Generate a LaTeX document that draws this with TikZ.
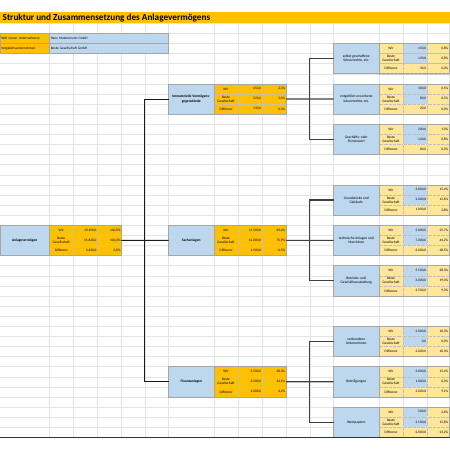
\documentclass[tikz,border=0pt]{standalone}
\usepackage{fontspec}
\setmainfont{Carlito}
\definecolor{xorange}{HTML}{FFC000}
\definecolor{xlorange}{HTML}{FFE699}
\definecolor{xblue}{HTML}{BDD7EE}
\definecolor{xgrid}{HTML}{E4E4E4}
\definecolor{xbord}{HTML}{A6A6A6}
\definecolor{xsep}{HTML}{BFBFBF}
\newcommand\ry[1]{(43.4+(#1-4)*10.1)}
\newcommand\trow[9]{%
 \node[#4,anchor=north west] (#1a) at ({#2},{#3}) {#7};
 \node[#5,anchor=north west] (#1b) at (#1a.north east) {#8};
 \node[#6,anchor=north west] (#1c) at (#1b.north east) {#9};}
\newcommand\otab[9]{%
 \trow{#1-1}{#2}{#3}{olab}{oval}{oval}{Wir}{#4}{#5}
 \trow{#1-2}{#2}{#3+10.1}{olab}{oval}{oval}{Beste\\Gesellschaft}{#6}{#7}
 \trow{#1-3}{#2}{#3+20.2}{olab}{oval}{oval}{Differenz}{#8}{#9}
 \draw[tborder] (#1-1a.north west) rectangle (#1-3c.south east);}
\newcommand\ltab[9]{%
 \trow{#1-1}{#2}{#3}{llab}{lval}{lpct}{Wir}{#4}{#5}
 \trow{#1-2}{#2}{#3+10.1}{llab}{lval}{lpct}{Beste\\Gesellschaft}{#6}{#7}
 \trow{#1-3}{#2}{#3+20.2}{llab}{ldif}{lpct}{Differenz}{#8}{#9}
 \draw[tborder] (#1-1a.north west) rectangle (#1-3c.south east);}
\tikzset{
 cellbase/.style={inner xsep=0.8pt, inner ysep=0pt, outer sep=0pt, minimum height=10.1pt,
   font=\fontsize{3.5}{3.9}\selectfont, draw=xsep, densely dotted, line width=0.3pt},
 olab/.style={cellbase, fill=xorange, text width=22.4pt, align=center},
 oval/.style={cellbase, fill=xorange, text width=22.4pt, align=right},
 llab/.style={cellbase, fill=xlorange, text width=22.4pt, align=center},
 lval/.style={cellbase, fill=xblue, text width=22.4pt, align=right},
 ldif/.style={cellbase, fill=xlorange, text width=22.4pt, align=right},
 lpct/.style={cellbase, fill=xlorange, text width=20.4pt, align=right},
 tborder/.style={draw=xbord, line width=0.5pt},
 bluebox/.style={draw=xbord, fill=xblue, line width=0.5pt, outer sep=0pt, inner sep=0.5pt,
   minimum height=30.3pt, align=center, anchor=north west, font=\fontsize{3.6}{4.3}\selectfont},
 bigbox/.style={bluebox, font=\bfseries\fontsize{3.6}{4.3}\selectfont},
 hdr/.style={draw=xbord, line width=0.4pt, outer sep=0pt, inner xsep=1.5pt, inner ysep=0pt,
   minimum height=10.1pt, anchor=north west, align=left, font=\fontsize{3.5}{4}\selectfont},
 conn/.style={draw=black!90, line width=0.8pt},
 connr/.style={draw=black!75, line width=1.1pt},
 gridl/.style={draw=xgrid, line width=0.3pt}
}
\begin{document}
\begin{tikzpicture}[x=1pt,y=-1pt]
\useasboundingbox (0,0) rectangle (450,450);
% spreadsheet grid
\foreach \r in {2,...,43} \draw[gridl] (0,{\ry{\r}}) -- (450,{\ry{\r}});
\foreach \c in {49.3,73.2,97.1,121,144.8,168.6,214,238,262,286,309.8,333.6,379,403,427,449.4}
  \draw[gridl] (\c,{\ry{2}}) -- (\c,{\ry{43}});
% title
\fill[xorange] (0,11.7) rectangle (450,23.2);
\node[anchor=west, inner sep=0pt, font=\bfseries\fontsize{9.2}{10}\selectfont] (title) at (2.5,17.6)
  {Struktur und Zusammensetzung des Anlagevermögens};
% header
\node[hdr, fill=xorange, text width=46.3pt] (h1) at (0,{\ry{3}}) {WIR (unser Unternehmen)};
\node[hdr, fill=xblue, text width=115.7pt] (h2) at (h1.north east) {Hans Mustermann GmbH};
\node[hdr, fill=xorange, text width=46.3pt] (h3) at (0,{\ry{4}}) {Vergleichsunternehmen};
\node[hdr, fill=xblue, text width=115.7pt] (h4) at (h3.north east) {Beste Gesellschaft GmbH};
% left
\node[bigbox, minimum width=49.3pt] (L) at (0,{\ry{22}}) {Anlagevermögen};
\otab{A}{49.3}{\ry{22}}{19.450,0}{100,0\%}{15.820,0}{100,0\%}{3.630,0}{0,0\%}
% middle
\node[bigbox, minimum width=45.4pt] (M1) at (168.6,{\ry{8}}) {Immaterielle Vermögens-\\gegenstände};
\otab{t1}{214}{\ry{8}}{450,0}{2,3\%}{320,0}{2,0\%}{130,0}{0,3\%}
\node[bigbox, minimum width=45.4pt] (M2) at (168.6,{\ry{22}}) {Sachanlagen};
\otab{t2}{214}{\ry{22}}{13.500,0}{69,4\%}{12.000,0}{75,9\%}{1.500,0}{-6,5\%}
\node[bigbox, minimum width=45.4pt] (M3) at (168.6,{\ry{36}}) {Finanzanlagen};
\otab{t3}{214}{\ry{36}}{5.500,0}{28,3\%}{3.500,0}{22,1\%}{2.000,0}{6,2\%}
% right
\node[bluebox, minimum width=45.4pt] (R1) at (333.6,{\ry{4}}) {selbst geschaffene\\Schutzrechte, etc.};
\ltab{r1}{379}{\ry{4}}{150,0}{0,8\%}{120,0}{0,8\%}{30,0}{0,0\%}
\node[bluebox, minimum width=45.4pt] (R2) at (333.6,{\ry{8}}) {entgeltlich erworbene\\Schutzrechte, etc.};
\ltab{r2}{379}{\ry{8}}{100,0}{0,5\%}{80,0}{0,5\%}{20,0}{0,0\%}
\node[bluebox, minimum width=45.4pt] (R3) at (333.6,{\ry{12}}) {Geschäfts- oder\\Firmenwert};
\ltab{r3}{379}{\ry{12}}{200,0}{1,0\%}{120,0}{0,8\%}{80,0}{0,3\%}
\node[bluebox, minimum width=45.4pt] (R4) at (333.6,{\ry{18}}) {Grundstücke und\\Gebäude};
\ltab{r4}{379}{\ry{18}}{3.000,0}{15,4\%}{2.000,0}{12,6\%}{1.000,0}{2,8\%}
\node[bluebox, minimum width=45.4pt] (R5) at (333.6,{\ry{22}}) {technische Anlagen und\\Maschinen};
\ltab{r5}{379}{\ry{22}}{5.000,0}{25,7\%}{7.000,0}{44,2\%}{-2.000,0}{-18,5\%}
\node[bluebox, minimum width=45.4pt] (R6) at (333.6,{\ry{26}}) {Betriebs- und\\Geschäftsausstattung};
\ltab{r6}{379}{\ry{26}}{5.500,0}{28,3\%}{3.000,0}{19,0\%}{2.500,0}{9,3\%}
\node[bluebox, minimum width=45.4pt] (R7) at (333.6,{\ry{32}}) {verbundene\\Unternehmen};
\ltab{r7}{379}{\ry{32}}{2.000,0}{10,3\%}{0,0}{0,0\%}{2.000,0}{10,3\%}
\node[bluebox, minimum width=45.4pt] (R8) at (333.6,{\ry{36}}) {Beteiligungen};
\ltab{r8}{379}{\ry{36}}{3.000,0}{15,4\%}{1.000,0}{6,3\%}{2.000,0}{9,1\%}
\node[bluebox, minimum width=45.4pt] (R9) at (333.6,{\ry{40}}) {Wertpapiere};
\ltab{r9}{379}{\ry{40}}{500,0}{2,6\%}{2.500,0}{15,8\%}{-2.000,0}{-13,2\%}
% bottom rule
\draw[black!80, line width=1pt] (0,{\ry{43}}) -- (450,{\ry{43}});
% connectors
\coordinate (ja) at (144.8,{\ry{22}+15.15});
\draw[conn] (A-2c.east) -- (M2.west);
\draw[conn] (M1.west) -| (ja) |- (M3.west);
\coordinate (jb1) at (309.8,{\ry{8}+15.15});
\coordinate (jb2) at (309.8,{\ry{22}+15.15});
\coordinate (jb3) at (309.8,{\ry{36}+15.15});
\draw[connr] (t1-2c.east) -- (R2.west);
\draw[connr] (R1.west) -| (jb1) |- (R3.west);
\draw[connr] (t2-2c.east) -- (R5.west);
\draw[connr] (R4.west) -| (jb2) |- (R6.west);
\draw[connr] (t3-2c.east) -- (R8.west);
\draw[connr] (R7.west) -| (jb3) |- (R9.west);
\end{tikzpicture}
\end{document}
